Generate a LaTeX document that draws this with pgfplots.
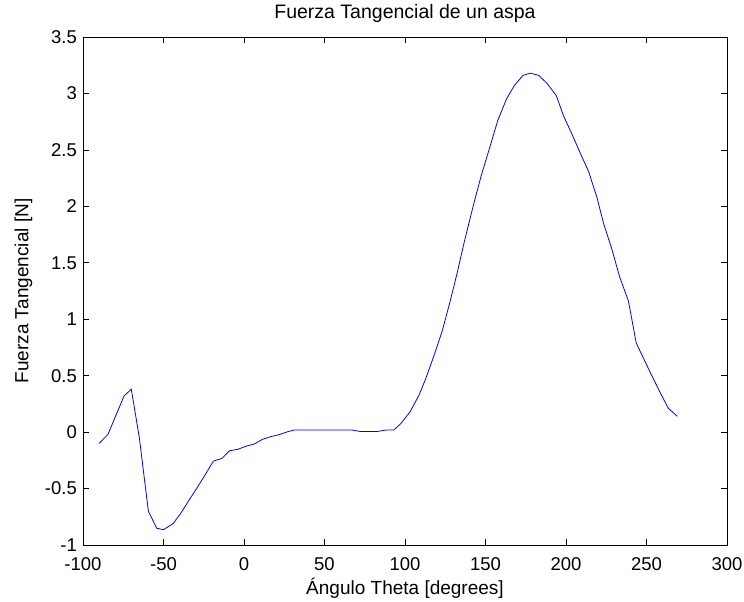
\documentclass[border=0pt]{standalone}
\usepackage{pgfplots}
\pgfplotsset{compat=1.18}
\usepackage{fontspec}
\setmainfont{Liberation Sans}

% Tangential force on one blade versus blade angle
\pgfplotstableread{
theta F
-90    -0.100
-84.5  -0.020
-74.5   0.320
-70     0.380
-65    -0.050
-59.4  -0.700
-54.2  -0.852
-50    -0.864
-44    -0.810
-39.3  -0.720
-34    -0.600
-29    -0.490
-23.8  -0.370
-19    -0.257
-13.7  -0.233
-9     -0.165
-4     -0.153
1.5    -0.124
6.2    -0.106
11.4   -0.065
16.6   -0.040
21.7   -0.023
27      0.003
31      0.018
67.3    0.018
72      0.006
83      0.006
88      0.018
93      0.018
97.3    0.074
103     0.177
108.7   0.327
112.7   0.467
117.9   0.673
123.1   0.895
127.8   1.146
132.4   1.410
136.9   1.690
142.3   2.000
147.3   2.270
152.6   2.520
157.6   2.760
163     2.950
167.9   3.070
173.3   3.160
177.9   3.180
183     3.160
188.2   3.090
194     2.980
198.5   2.800
203.7   2.640
208.9   2.470
214     2.310
219.2   2.080
223.3   1.850
228.5   1.620
233.2   1.380
238.8   1.160
243.6   0.790
248.6   0.640
253.3   0.500
258.5   0.350
263.6   0.210
269.2   0.140
}\fuerza

\begin{document}
\begin{tikzpicture}
\begin{axis}[
  scale only axis,
  width=644bp, height=508bp,
  xmin=-100, xmax=300,
  ymin=-1, ymax=3.5,
  xtick={-100,-50,0,50,100,150,200,250,300},
  ytick={-1,-0.5,0,0.5,1,1.5,2,2.5,3,3.5},
  yticklabels={-1,-0.5,0,0.5,1,1.5,2,2.5,3,3.5},
  xticklabels={-100,-50,0,50,100,150,200,250,300},
  tick align=inside,
  major tick length=6bp,
  tick style={black, line width=0.6bp},
  axis line style={black, line width=0.9bp},
  ticklabel style={font=\fontsize{18.5bp}{22bp}\selectfont},
  xticklabel style={anchor=base, yshift=-25.7bp},
  yticklabel style={anchor=east, inner sep=0pt, xshift=-6bp},
  title={Fuerza Tangencial de un aspa},
  title style={at={(axis description cs:0.5,1.025)}, anchor=base,
    font=\fontsize{19.5bp}{23bp}\selectfont},
  xlabel={Ángulo Theta [degrees]},
  xlabel style={at={(axis description cs:0.5,-0.0965)}, anchor=base,
    font=\fontsize{19bp}{23bp}\selectfont},
  ylabel={Fuerza Tangencial [N]},
  ylabel style={at={(axis description cs:-0.0849,0.5)}, anchor=base, rotate=0,
    font=\fontsize{19bp}{23bp}\selectfont},
]
\addplot[blue, line width=0.8bp, no markers] table[x=theta, y=F] {\fuerza};
\coordinate (sw) at (rel axis cs:0,0);
\coordinate (ne) at (rel axis cs:1,1);
\end{axis}
\pgfresetboundingbox
\path ([shift={(-83bp,-57bp)}]sw) rectangle ([shift={(17bp,37bp)}]ne);
\end{tikzpicture}
\end{document}
